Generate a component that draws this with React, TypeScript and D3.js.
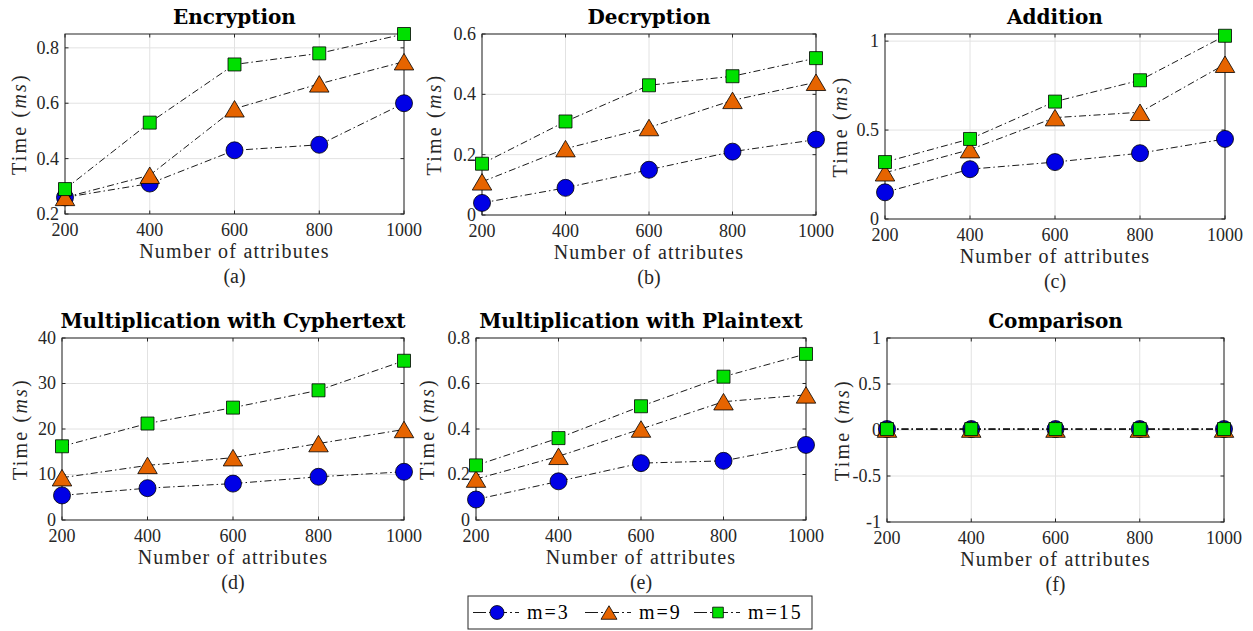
import React from 'react';
import * as d3 from 'd3';

// x values shared by every panel
const attributes = [200, 400, 600, 800, 1000];
const seriesNames = ['m=3', 'm=9', 'm=15'];

const encM3 = [0.26, 0.31, 0.43, 0.45, 0.6];
const encM9 = [0.26, 0.34, 0.58, 0.67, 0.75];
const encM15 = [0.29, 0.53, 0.74, 0.78, 0.85];

const decM3 = [0.04, 0.09, 0.15, 0.21, 0.25];
const decM9 = [0.11, 0.22, 0.29, 0.38, 0.44];
const decM15 = [0.17, 0.31, 0.43, 0.46, 0.52];

const addM3 = [0.15, 0.28, 0.32, 0.37, 0.45];
const addM9 = [0.26, 0.39, 0.57, 0.6, 0.87];
const addM15 = [0.32, 0.45, 0.66, 0.78, 1.03];

const mulCM3 = [5.4, 7, 8, 9.5, 10.6];
const mulCM9 = [9.3, 12, 13.7, 16.8, 19.9];
const mulCM15 = [16.2, 21.2, 24.7, 28.5, 35];

const mulPM3 = [0.09, 0.17, 0.25, 0.26, 0.33];
const mulPM9 = [0.18, 0.28, 0.4, 0.52, 0.55];
const mulPM15 = [0.24, 0.36, 0.5, 0.63, 0.73];

const cmpM3 = [0.01, 0.01, 0.01, 0.01, 0.01];
const cmpM9 = [0.01, 0.01, 0.01, 0.01, 0.01];
const cmpM15 = [0.01, 0.01, 0.01, 0.01, 0.01];

const titles = ['Encryption', 'Decryption', 'Addition', 'Multiplication with Cyphertext', 'Multiplication with Plaintext', 'Comparison'];
const subLabels = ['(a)', '(b)', '(c)', '(d)', '(e)', '(f)'];
const yDomains = [[0.2, 0.85], [0, 0.6], [0, 1.04], [0, 40], [0, 0.8], [-1, 1]];
const yTickValues = [
  [0.2, 0.4, 0.6, 0.8],
  [0, 0.2, 0.4, 0.6],
  [0, 0.5, 1],
  [0, 10, 20, 30, 40],
  [0, 0.2, 0.4, 0.6, 0.8],
  [-1, -0.5, 0, 0.5, 1],
];
const panelSeries = [
  [encM3, encM9, encM15],
  [decM3, decM9, decM15],
  [addM3, addM9, addM15],
  [mulCM3, mulCM9, mulCM15],
  [mulPM3, mulPM9, mulPM15],
  [cmpM3, cmpM9, cmpM15],
];

// axes boxes in page pixels
const layout = [
  { left: 65, right: 404, top: 34, bottom: 214, yLab: -46 },
  { left: 482, right: 816, top: 34, bottom: 215, yLab: -48 },
  { left: 885, right: 1225, top: 34, bottom: 219, yLab: -45 },
  { left: 62, right: 404, top: 338, bottom: 520, yLab: -42 },
  { left: 476, right: 806, top: 338, bottom: 520, yLab: -49 },
  { left: 887, right: 1224, top: 338, bottom: 522, yLab: -45 },
];

const colors = ['#0000e6', '#e66400', '#00e000'];
const axisColor = '#262626';
const gridColor = '#e2e2e2';
const dash = '7,3,1.5,3';
const serif = { fontFamily: "'Liberation Serif', serif" };
const titleFont = { fontFamily: "'DejaVu Serif', serif", fontWeight: 700 };

const Marker = ({ kind, x, y, s = 1 }: { kind: number; x: number; y: number; s?: number }) => {
  if (kind === 0) {
    return <path d={d3.symbol(d3.symbolCircle, Math.PI * 8.5 * 8.5 * s * s)()!} transform={`translate(${x},${y})`}
      fill={colors[0]} stroke="#000" strokeWidth={0.8} />;
  }
  if (kind === 1) {
    const w = 19.5 * s, h = 16.5 * s;
    const pts = [[x, y - h / 2], [x + w / 2, y + h / 2], [x - w / 2, y + h / 2]].map(p => p.join(',')).join(' ');
    return <polygon points={pts} fill={colors[1]} stroke="#000" strokeWidth={0.8} />;
  }
  return <path d={d3.symbol(d3.symbolSquare, 13 * 13 * s * s)()!} transform={`translate(${x},${y})`}
    fill={colors[2]} stroke="#000" strokeWidth={0.8} />;
};

const Panel = ({ i }: { i: number }) => {
  const L = layout[i];
  const x = d3.scaleLinear().domain([200, 1000]).range([L.left, L.right]);
  const y = d3.scaleLinear().domain(yDomains[i]).range([L.bottom, L.top]);
  const line = d3.line<number>().x((_, k) => x(attributes[k])).y(d => y(d));
  const cx = (L.left + L.right) / 2;
  const cy = (L.top + L.bottom) / 2;
  const tl = 3.5;
  return (
    <g>
      {attributes.map(a => (
        <line key={'gx' + a} x1={x(a)} x2={x(a)} y1={L.top} y2={L.bottom} stroke={gridColor} />
      ))}
      {yTickValues[i].map(v => (
        <line key={'gy' + v} x1={L.left} x2={L.right} y1={y(v)} y2={y(v)} stroke={gridColor} />
      ))}
      <rect x={L.left} y={L.top} width={L.right - L.left} height={L.bottom - L.top} fill="none" stroke={axisColor} strokeWidth={1} />
      {attributes.map(a => (
        <g key={'tx' + a}>
          <line x1={x(a)} x2={x(a)} y1={L.bottom} y2={L.bottom - tl} stroke={axisColor} />
          <line x1={x(a)} x2={x(a)} y1={L.top} y2={L.top + tl} stroke={axisColor} />
          <text x={x(a)} y={L.bottom + 22} textAnchor="middle" fontSize={18} fill={axisColor} style={serif}>{a}</text>
        </g>
      ))}
      {yTickValues[i].map(v => (
        <g key={'ty' + v}>
          <line x1={L.left} x2={L.left + tl} y1={y(v)} y2={y(v)} stroke={axisColor} />
          <line x1={L.right} x2={L.right - tl} y1={y(v)} y2={y(v)} stroke={axisColor} />
          <text x={L.left - 6} y={y(v)} dy="0.33em" textAnchor="end" fontSize={18} fill={axisColor} style={serif}>{String(v)}</text>
        </g>
      ))}
      <text x={cx} y={L.top - 10} textAnchor="middle" fontSize={20} fill="#000" style={titleFont}>{titles[i]}</text>
      <text x={cx} y={L.bottom + 44} textAnchor="middle" fontSize={20} fill={axisColor} style={serif} letterSpacing={1.2}>Number of attributes</text>
      <text x={cx} y={L.bottom + 69} textAnchor="middle" fontSize={20} fill={axisColor} style={serif}>{subLabels[i]}</text>
      <text transform={`translate(${L.left + L.yLab},${cy}) rotate(-90)`} textAnchor="middle" dy="0.35em" fontSize={20} fill={axisColor}
        style={serif} letterSpacing={2.2}>
        Time (<tspan fontStyle="italic">ms</tspan>)
      </text>
      {panelSeries[i].map((vals, s) => (
        <g key={'s' + s}>
          <path d={line(vals)!} fill="none" stroke="#000" strokeWidth={0.9} strokeDasharray={dash} />
          {vals.map((v, k) => <Marker key={k} kind={s} x={x(attributes[k])} y={y(v)} />)}
        </g>
      ))}
    </g>
  );
};

const Legend = () => {
  const starts = [473, 585, 694];
  return (
    <g>
      <rect x={468} y={596} width={344} height={33} fill="#fff" stroke={axisColor} strokeWidth={1} />
      {seriesNames.map((name, s) => {
        const x0 = starts[s];
        return (
          <g key={name}>
            <line x1={x0} x2={x0 + 46} y1={612.5} y2={612.5} stroke="#000" strokeWidth={0.9} strokeDasharray="13,3,2,3" />
            <Marker kind={s} x={x0 + 24} y={612.5} s={0.82} />
            <text x={x0 + 54} y={619} fontSize={20} fill="#000" style={serif} letterSpacing={2}>{name}</text>
          </g>
        );
      })}
    </g>
  );
};

export default function App() {
  return (
    <svg width={1253} height={631} style={{ position: 'absolute', left: 0, top: 0, background: '#fff' }}>
      <rect width={1253} height={631} fill="#fff" />
      {titles.map((_, i) => <Panel key={i} i={i} />)}
      <Legend />
    </svg>
  );
}
